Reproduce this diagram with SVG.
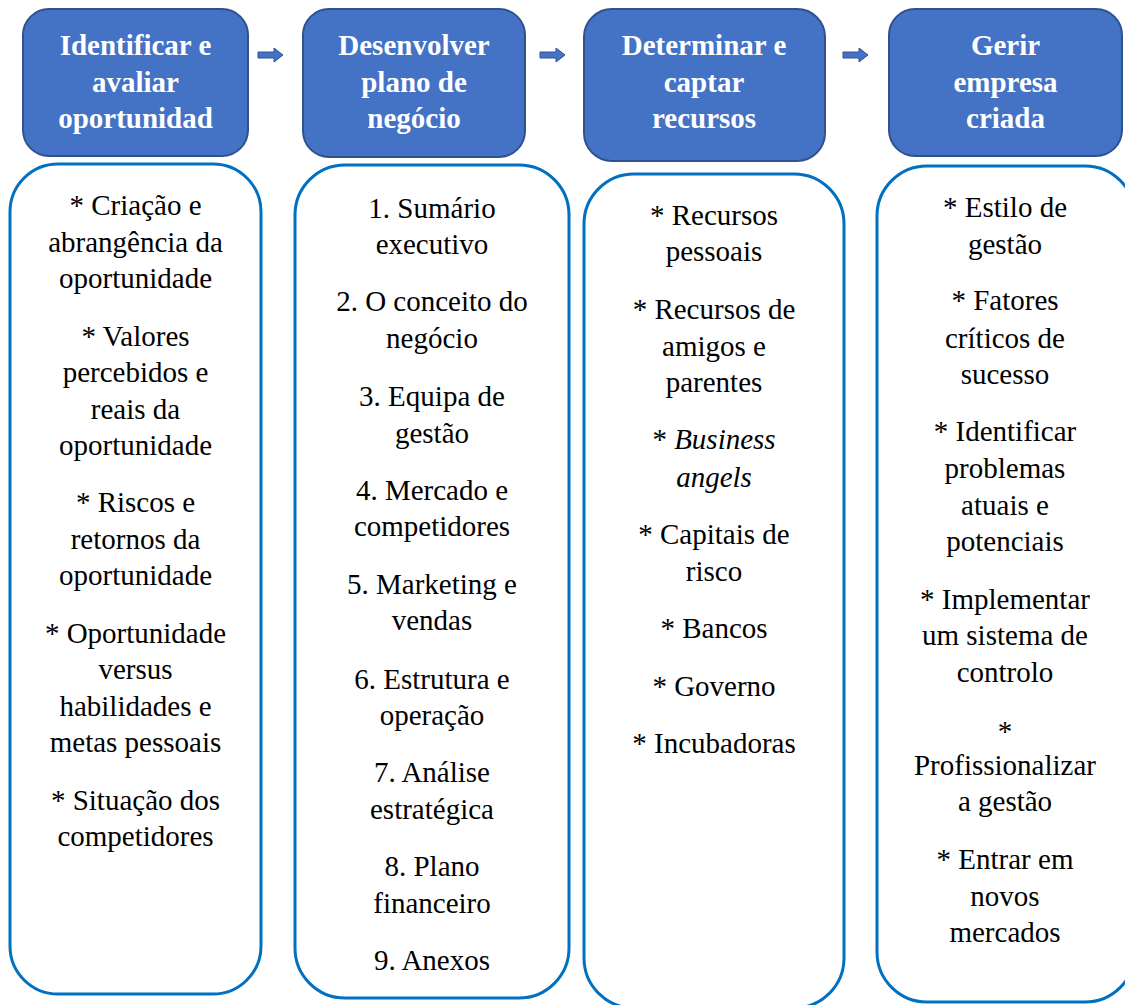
<svg xmlns="http://www.w3.org/2000/svg" width="1125" height="1005" viewBox="0 0 1125 1005">
<style>
.hdr{fill:#4472C4;stroke:#2F528F;stroke-width:2}
.hdrt{font-family:'Liberation Serif',Tinos,'Times New Roman','DejaVu Serif',serif;font-size:29px;font-weight:bold;fill:#FFFFFF;text-anchor:middle}
.body{fill:#FFFFFF;stroke:#0070C0;stroke-width:3}
.bt{font-family:'Liberation Serif',Tinos,'Times New Roman','DejaVu Serif',serif;font-size:29px;fill:#000000;text-anchor:middle}
.arr{fill:#4472C4;stroke:#2F528F;stroke-width:1}
</style>
<rect width="1125" height="1005" fill="#FFFFFF"/>
<g id="connectors">
<path class="arr" d="M258,52 H274 V48 L283,55 L274,62 V58 H258 Z"/>
<path class="arr" d="M540,52 H556 V48 L565,55 L556,62 V58 H540 Z"/>
<path class="arr" d="M843,52 H859 V48 L868,55 L859,62 V58 H843 Z"/>
</g>
<g id="header1">
<rect class="hdr" x="23" y="9" width="225" height="147" rx="26"/>
<text class="hdrt" x="135.5" y="55" font-family="Liberation Serif">Identificar e</text>
<text class="hdrt" x="135.5" y="92">avaliar</text>
<text class="hdrt" x="135.5" y="128">oportunidad</text>
</g>
<g id="header2">
<rect class="hdr" x="303" y="9" width="222" height="148" rx="26"/>
<text class="hdrt" x="414" y="55">Desenvolver</text>
<text class="hdrt" x="414" y="92">plano de</text>
<text class="hdrt" x="414" y="128">negócio</text>
</g>
<g id="header3">
<rect class="hdr" x="584" y="9" width="241" height="152" rx="28"/>
<text class="hdrt" x="704" y="55">Determinar e</text>
<text class="hdrt" x="704" y="92">captar</text>
<text class="hdrt" x="704" y="128">recursos</text>
</g>
<g id="header4">
<rect class="hdr" x="889" y="9" width="233" height="147" rx="26"/>
<text class="hdrt" x="1005.5" y="55">Gerir</text>
<text class="hdrt" x="1005.5" y="92">empresa</text>
<text class="hdrt" x="1005.5" y="128">criada</text>
</g>
<g id="box1">
<rect class="body" x="10" y="164" width="251" height="830" rx="48"/>
<text class="bt" x="135.5" y="215">* Criação e</text>
<text class="bt" x="135.5" y="252">abrangência da</text>
<text class="bt" x="135.5" y="288">oportunidade</text>
<text class="bt" x="135.5" y="346">* Valores</text>
<text class="bt" x="135.5" y="382">percebidos e</text>
<text class="bt" x="135.5" y="419">reais da</text>
<text class="bt" x="135.5" y="455">oportunidade</text>
<text class="bt" x="135.5" y="512">* Riscos e</text>
<text class="bt" x="135.5" y="549">retornos da</text>
<text class="bt" x="135.5" y="585">oportunidade</text>
<text class="bt" x="135.5" y="643">* Oportunidade</text>
<text class="bt" x="135.5" y="679">versus</text>
<text class="bt" x="135.5" y="716">habilidades e</text>
<text class="bt" x="135.5" y="752">metas pessoais</text>
<text class="bt" x="135.5" y="810">* Situação dos</text>
<text class="bt" x="135.5" y="846">competidores</text>
</g>
<g id="box2">
<rect class="body" x="295" y="165" width="274" height="833" rx="50"/>
<text class="bt" x="432" y="218">1. Sumário</text>
<text class="bt" x="432" y="254">executivo</text>
<text class="bt" x="432" y="311">2. O conceito do</text>
<text class="bt" x="432" y="348">negócio</text>
<text class="bt" x="432" y="406">3. Equipa de</text>
<text class="bt" x="432" y="443">gestão</text>
<text class="bt" x="432" y="500">4. Mercado e</text>
<text class="bt" x="432" y="536">competidores</text>
<text class="bt" x="432" y="594">5. Marketing e</text>
<text class="bt" x="432" y="630">vendas</text>
<text class="bt" x="432" y="689">6. Estrutura e</text>
<text class="bt" x="432" y="725">operação</text>
<text class="bt" x="432" y="782">7. Análise</text>
<text class="bt" x="432" y="819">estratégica</text>
<text class="bt" x="432" y="876">8. Plano</text>
<text class="bt" x="432" y="913">financeiro</text>
<text class="bt" x="432" y="970">9. Anexos</text>
</g>
<g id="box3">
<rect class="body" x="584" y="174" width="260" height="834" rx="50"/>
<text class="bt" x="714" y="225">* Recursos</text>
<text class="bt" x="714" y="261">pessoais</text>
<text class="bt" x="714" y="319">* Recursos de</text>
<text class="bt" x="714" y="356">amigos e</text>
<text class="bt" x="714" y="392">parentes</text>
<text class="bt" x="714" y="449">* <tspan font-style="italic">Business</tspan></text>
<text class="bt" x="714" y="487" font-style="italic">angels</text>
<text class="bt" x="714" y="544">* Capitais de</text>
<text class="bt" x="714" y="581">risco</text>
<text class="bt" x="714" y="638">* Bancos</text>
<text class="bt" x="714" y="696">* Governo</text>
<text class="bt" x="714" y="753">* Incubadoras</text>
</g>
<g id="box4">
<rect class="body" x="877" y="166" width="258" height="836" rx="50"/>
<text class="bt" x="1005" y="217">* Estilo de</text>
<text class="bt" x="1005" y="254">gestão</text>
<text class="bt" x="1005" y="310">* Fatores</text>
<text class="bt" x="1005" y="348">críticos de</text>
<text class="bt" x="1005" y="384">sucesso</text>
<text class="bt" x="1005" y="441">* Identificar</text>
<text class="bt" x="1005" y="478">problemas</text>
<text class="bt" x="1005" y="515">atuais e</text>
<text class="bt" x="1005" y="551">potenciais</text>
<text class="bt" x="1005" y="609">* Implementar</text>
<text class="bt" x="1005" y="645">um sistema de</text>
<text class="bt" x="1005" y="682">controlo</text>
<text class="bt" x="1005" y="741">*</text>
<text class="bt" x="1005" y="775">Profissionalizar</text>
<text class="bt" x="1005" y="811">a gestão</text>
<text class="bt" x="1005" y="869">* Entrar em</text>
<text class="bt" x="1005" y="906">novos</text>
<text class="bt" x="1005" y="942">mercados</text>
</g>
</svg>
